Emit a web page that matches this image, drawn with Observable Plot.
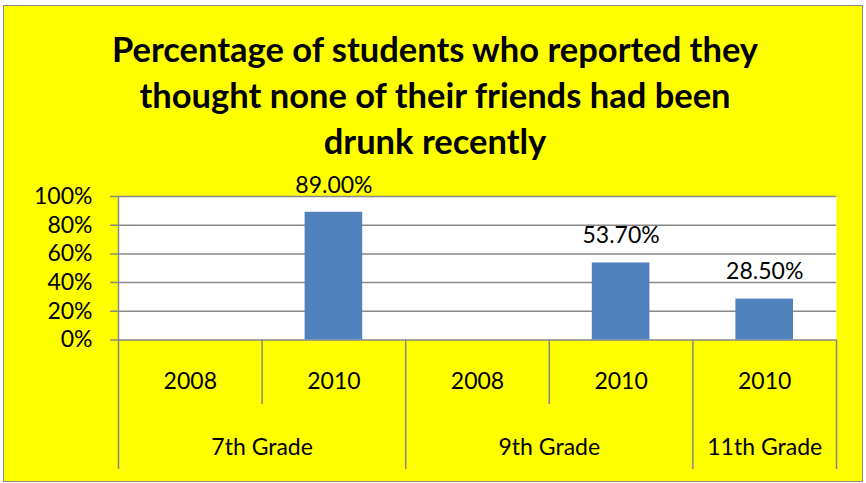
<!DOCTYPE html>
<html>
<head>
<meta charset="utf-8">
<script src="https://cdn.jsdelivr.net/npm/d3@7"></script>
<script src="https://cdn.jsdelivr.net/npm/@observablehq/plot@0.6"></script>
<style>
  html, body { margin: 0; padding: 0; background: #ffffff; }
  #page { position: relative; width: 866px; height: 483px; overflow: hidden; }
  #box { position: absolute; left: 3px; top: 5px; width: 860px; height: 477px; box-sizing: border-box;
         background: #ffff00; border: 1.5px solid #8a8a8a; }
  #title { position: absolute; left: 0; top: 26px; width: 870px; text-align: center;
           font-family: Lato, "Open Sans", sans-serif; font-weight: 700; font-size: 34.5px; line-height: 46px; color: #000; }
  #chart { position: absolute; left: 0; top: 170px; }
</style>
</head>
<body>
<div id="page">
  <div id="box"></div>
  <div id="title">Percentage of students who reported they<br>thought none of their friends had been<br>drunk recently</div>
  <div id="chart"></div>
</div>
<script>
// ---- data ----
const grades = ["7th Grade", "9th Grade", "11th Grade"];
const years = [["2008", "2010"], ["2008", "2010"], ["2010"]];
const values = [[null, 0.89], [null, 0.537], [0.285]];
const yTicks = [0, 0.2, 0.4, 0.6, 0.8, 1.0];

// build slot table
const slots = [];
const groups = [];
grades.forEach((g, gi) => {
  const start = slots.length;
  years[gi].forEach((yr, yi) => {
    slots.push({i: slots.length, grade: g, year: yr, value: values[gi][yi]});
  });
  groups.push({grade: g, start, end: slots.length});
});
const nSlots = slots.length;
const bars = slots.filter(d => d.value != null);

// boundaries
const outerBounds = [0, ...groups.map(g => g.end)];
const innerBounds = [];
groups.forEach(g => { for (let k = g.start + 1; k < g.end; k++) innerBounds.push(k); });

const gray = "#888888";
const font = "Lato, 'Open Sans', sans-serif";

const chart = Plot.plot({
  width: 866,
  height: 313,
  marginLeft: 118,
  marginRight: 30,
  marginTop: 26,
  marginBottom: 143.5,
  style: {background: "transparent", overflow: "visible", fontFamily: font, fontSize: "23px", color: "#000"},
  x: {type: "linear", domain: [0, nSlots], axis: null},
  y: {type: "linear", domain: [0, 1], axis: null},
  marks: [
    Plot.frame({fill: "white", stroke: null}),
    Plot.ruleY(yTicks, {stroke: gray, strokeWidth: 1.5, insetLeft: -8}),
    Plot.axisY({ticks: yTicks, tickFormat: d3.format(".0%"), tickSize: 0, tickPadding: 26, fontSize: 23, fill: "#000", label: null}),
    Plot.rectY(bars, {x1: d => d.i, x2: d => d.i + 1, y: "value", insetLeft: 43, insetRight: 43, fill: "#4F81BD"}),
    Plot.text(bars, {x: d => d.i + 0.5, y: "value", text: d => d3.format(".2%")(d.value), dy: -27, fontSize: 23, fill: "#000", lineAnchor: "middle"}),
    // left axis line extended down through category tiers
    Plot.ruleX(outerBounds.slice(0, 1), {stroke: gray, strokeWidth: 1.5, insetBottom: -129.5}),
    Plot.ruleX(outerBounds.slice(1), {y1: 0, y2: 0, stroke: gray, strokeWidth: 1.5, insetBottom: -129.5}),
    Plot.ruleX(innerBounds, {y1: 0, y2: 0, stroke: gray, strokeWidth: 1.5, insetBottom: -64.5}),
    Plot.text(slots, {x: d => d.i + 0.5, y: 0, text: "year", dy: 41.5, fontSize: 23, fill: "#000", lineAnchor: "middle"}),
    Plot.text(groups, {x: d => (d.start + d.end) / 2, y: 0, text: "grade", dy: 107.5, fontSize: 23, fill: "#000", lineAnchor: "middle"})
  ]
});
document.getElementById("chart").appendChild(chart);
</script>
</body>
</html>
